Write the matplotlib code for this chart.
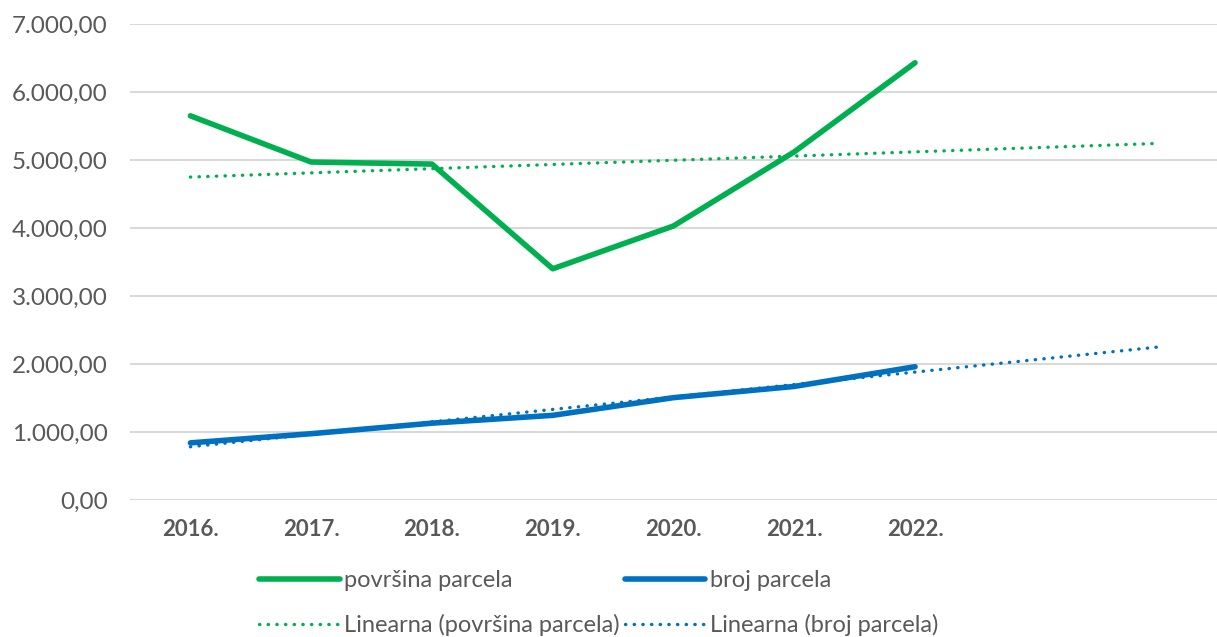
import matplotlib.pyplot as plt
import numpy as np
from matplotlib.ticker import FuncFormatter

# podaci
godine = ["2016.", "2017.", "2018.", "2019.", "2020.", "2021.", "2022."]
povrsina = [5650, 4970, 4940, 3400, 4030, 5120, 6430]
broj = [840, 975, 1130, 1245, 1505, 1670, 1960]
prognoza = 2  # linearni trend ide dva razdoblja naprijed

zelena = "#00b050"
plava = "#0070c0"
siva = "#595959"

plt.rcParams['font.family'] = ['Lato', 'DejaVu Sans']

fig = plt.figure(figsize=(12.17, 6.37), dpi=100)
ax = fig.add_axes([130 / 1217, 137 / 637, 1087 / 1217, 476 / 637])

x = np.arange(len(godine))
xt = np.arange(len(godine) + prognoza)

l1, = ax.plot(x, povrsina, color=zelena, lw=4, solid_capstyle='round',
              solid_joinstyle='round', label="površina parcela", zorder=3)
l2, = ax.plot(x, broj, color=plava, lw=4, solid_capstyle='round',
              solid_joinstyle='round', label="broj parcela", zorder=3)

k, n = np.polyfit(x, povrsina, 1)
t1, = ax.plot(xt, k * xt + n, color=zelena, lw=2.4, ls=(0, (0.1, 2.5)),
              dash_capstyle='round', label="Linearna (površina parcela)", zorder=2)
k, n = np.polyfit(x, broj, 1)
t2, = ax.plot(xt, k * xt + n, color=plava, lw=2.4, ls=(0, (0.1, 2.5)),
              dash_capstyle='round', label="Linearna (broj parcela)", zorder=2)

ax.set_xlim(-0.5, len(xt) - 0.5)
ax.set_ylim(0, 7000)
ax.set_yticks(np.arange(0, 7001, 1000))
ax.yaxis.set_major_formatter(FuncFormatter(
    lambda v, p: f"{v:,.2f}".replace(",", "X").replace(".", ",").replace("X", ".")))
ax.set_xticks(x)
ax.set_xticklabels(godine, fontweight='bold')

ax.grid(axis='y', color='#d9d9d9', lw=1.5)
ax.set_axisbelow(True)
for s in ax.spines.values():
    s.set_visible(False)
ax.tick_params(axis='y', length=0, labelsize=17.5, labelcolor=siva, pad=16)
ax.tick_params(axis='x', length=0, labelsize=16, labelcolor=siva, pad=14)

fig.legend(handles=[l1, t1, l2, t2], ncol=2, loc='center',
           bbox_to_anchor=(0.492, 0.053), frameon=False, fontsize=17,
           handlelength=3.4, handletextpad=0.2, columnspacing=0.2,
           labelspacing=0.95, labelcolor=siva)

fig.savefig("out.png", dpi=100)
